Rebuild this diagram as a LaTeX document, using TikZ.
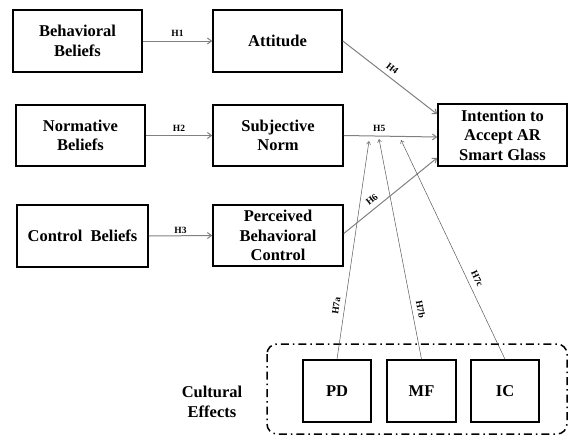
\documentclass[tikz,border=0pt]{standalone}
\usepackage{fontspec}
\setmainfont{Liberation Serif}
\usetikzlibrary{arrows.meta,calc}
\begin{document}
\begin{tikzpicture}[x=1pt,y=-1pt,
  box/.style={draw=black,line width=1.6pt,inner sep=0pt,align=center,
    font=\bfseries\fontsize{16.5}{19.5}\selectfont},
  rel/.style={draw=black!50,line width=1pt,-{Straight Barb[length=4pt,width=6pt]}},
  mod/.style={draw=black!65,line width=0.5pt,-{Straight Barb[length=3pt,width=4pt]}},
  lab/.style={font=\bfseries\fontsize{9.5}{11}\selectfont,inner sep=1pt},
  frame/.style={draw=black,line width=1.5pt,rounded corners=10pt,
    dash pattern=on 8pt off 4pt on 1.5pt off 4pt}]
\useasboundingbox (0,0) rectangle (570,437);
\draw[frame] (267,344) rectangle (567,434);

\node[box,minimum width=129pt,minimum height=62pt] (BB) at (77.5,41) {Behavioral\\Beliefs};
\node[box,minimum width=129pt,minimum height=62pt] (ATT) at (277.5,41) {Attitude};
\node[box,minimum width=129pt,minimum height=61pt] (NB) at (80.5,135.5) {Normative\\Beliefs};
\node[box,minimum width=130pt,minimum height=61pt] (SN) at (278,135.5) {Subjective\\Norm};
\node[box,minimum width=131pt,minimum height=62pt] (CB) at (82.5,236) {Control~~Beliefs};
\node[box,minimum width=130pt,minimum height=61pt] (PBC) at (278,235.5) {Perceived\\Behavioral\\Control};
\node[box,minimum width=129pt,minimum height=62pt] (INT) at (502.5,135) {Intention to\\Accept AR\\Smart Glass};
\node[box,minimum width=68pt,minimum height=62pt] (PD) at (337,391) {PD};
\node[box,minimum width=69pt,minimum height=62pt] (MF) at (421.5,391) {MF};
\node[box,minimum width=68pt,minimum height=62pt] (IC) at (505,391) {IC};
\node[align=center,font=\bfseries\fontsize{16.5}{19.5}\selectfont] (CE) at (212,402) {Cultural\\Effects};

\draw[rel] (BB.east) -- node[lab,above=3pt] {H1} (ATT.west);
\draw[rel] (NB.east) -- node[lab,above=3pt] {H2} (SN.west);
\draw[rel] (CB.east) -- node[lab,above=1pt] {H3} (PBC.west);
\draw[rel] (ATT.east) -- node[lab,sloped,above=4pt,pos=0.47] {H4} ($(INT.north west)+(0,11)$);
\draw[rel] (SN.east) -- node[lab,above=3pt,pos=0.38] {H5} ($(INT.west)+(0,2)$);
\draw[rel] ($(PBC.east)+(0,-2)$) -- node[lab,sloped,above=4pt,pos=0.36] {H6} ($(INT.south west)+(0,-9)$);

\coordinate (t1) at (369,141);
\coordinate (t2) at (379,139);
\coordinate (t3) at (401,140);
\draw[mod] (PD.north) -- node[lab,sloped,above=4pt,pos=0.24] {H7a} (t1);
\draw[mod] (MF.north) -- node[lab,sloped,above=4pt,pos=0.22] {H7b} (t2);
\draw[mod] (IC.north) -- node[lab,sloped,above=5pt,pos=0.35] {H7c} (t3);
\end{tikzpicture}
\end{document}
